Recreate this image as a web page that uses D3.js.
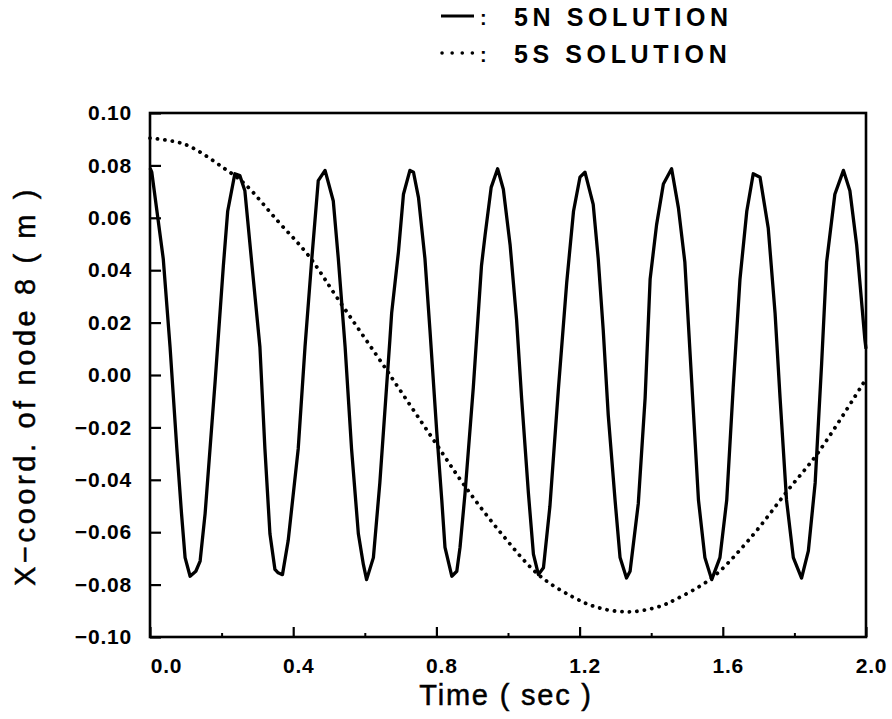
<!DOCTYPE html>
<html>
<head>
<meta charset="utf-8">
<script src="https://cdn.jsdelivr.net/npm/d3@7"></script>
<style>
body { margin: 0; background: #fff; }
svg { display: block; }
</style>
</head>
<body>
<svg id="chart"></svg>
<script>
// 5N solution (solid) : time (sec) and x-coord (m)
var t5N = [0.000,0.005,0.037,0.056,0.075,0.088,0.098,0.112,0.128,0.140,0.154,0.182,0.205,0.217,0.237,0.251,0.265,0.284,0.307,0.321,0.335,0.349,0.358,0.370,0.386,0.414,0.433,0.452,0.470,0.489,0.512,0.526,0.545,0.563,0.582,0.596,0.605,0.624,0.642,0.670,0.675,0.694,0.708,0.726,0.736,0.750,0.768,0.782,0.801,0.815,0.824,0.843,0.857,0.866,0.880,0.903,0.926,0.936,0.953,0.971,0.987,1.006,1.024,1.038,1.057,1.071,1.085,1.099,1.117,1.141,1.164,1.183,1.201,1.215,1.238,1.252,1.266,1.280,1.299,1.313,1.331,1.341,1.364,1.383,1.397,1.415,1.434,1.457,1.476,1.494,1.513,1.532,1.550,1.569,1.592,1.611,1.629,1.648,1.667,1.685,1.704,1.727,1.746,1.760,1.778,1.797,1.820,1.839,1.858,1.876,1.890,1.913,1.937,1.955,1.974,1.997,2.000];
var v5N = [0.079,0.0774,0.0444,0.0107,-0.0282,-0.0528,-0.0697,-0.0768,-0.0749,-0.071,-0.0528,-0.0023,0.0418,0.0625,0.0768,0.0761,0.0703,0.0431,0.0107,-0.0282,-0.0606,-0.0742,-0.0755,-0.0762,-0.0632,-0.0282,0.0107,0.0444,0.0742,0.0781,0.0664,0.0444,0.0107,-0.0282,-0.0606,-0.0723,-0.0781,-0.0697,-0.0412,0.0133,0.0236,0.0470,0.069,0.0781,0.0774,0.0677,0.0444,0.0171,-0.0217,-0.0477,-0.0658,-0.0768,-0.0749,-0.0658,-0.0451,-0.0049,0.0418,0.0534,0.0716,0.0787,0.0709,0.0495,0.0210,-0.0088,-0.0451,-0.0684,-0.0762,-0.0736,-0.0502,-0.0049,0.0353,0.0625,0.0755,0.0774,0.0651,0.0444,0.0171,-0.0153,-0.0477,-0.0697,-0.0775,-0.0749,-0.0490,-0.0088,0.0366,0.0573,0.0729,0.0787,0.0638,0.0431,-0.0023,-0.0477,-0.0697,-0.0781,-0.0697,-0.0477,-0.0049,0.0366,0.0625,0.0768,0.0755,0.0560,0.0236,-0.0088,-0.0477,-0.0697,-0.0775,-0.0671,-0.0412,0.0042,0.0431,0.0690,0.0781,0.0703,0.0495,0.0133,0.010];

// 5S solution (dotted)
var t5S = [0.000,0.098,0.209,0.265,0.358,0.442,0.526,0.656,0.675,0.796,0.880,0.982,1.085,1.178,1.252,1.336,1.420,1.466,1.569,1.671,1.783,1.867,2.000];
var v5S = [0.0904,0.0880,0.0787,0.0729,0.0586,0.0457,0.0288,0.0029,-0.0010,-0.0256,-0.0425,-0.0606,-0.0762,-0.0845,-0.0888,-0.0904,-0.0885,-0.0858,-0.0775,-0.0632,-0.0438,-0.0295,-0.0015];

var xTicks = [0.0,0.4,0.8,1.2,1.6,2.0];
var xMinor = [0.2,0.6,1.0,1.4,1.8];
var yTicks = [-0.10,-0.08,-0.06,-0.04,-0.02,0.00,0.02,0.04,0.06,0.08,0.10];
var legendNames = ["5N SOLUTION","5S SOLUTION"];

var screen = {width: 892, height: 719}
var margins = {top: 113, right: 26, bottom: 82, left: 150}
var width = screen.width - margins.left - margins.right
var height = screen.height - margins.top - margins.bottom

var svg = d3.select("#chart")
    .attr("width", screen.width)
    .attr("height", screen.height)

var g = svg.append("g")
    .attr("transform", "translate(" + margins.left + "," + margins.top + ")")

var xScale = d3.scaleLinear().domain([0, 2]).range([0, width])
var yScale = d3.scaleLinear().domain([-0.1, 0.1]).range([height, 0])

var tickFont = "'Liberation Sans', Arial, sans-serif"

// y axis, ticks pointing inwards
var yAxis = g.append("g")
    .call(d3.axisLeft(yScale).tickValues(yTicks).tickSize(-11).tickPadding(18)
        .tickFormat(d3.format(".2f")))
yAxis.select(".domain").remove()
yAxis.selectAll("line").attr("stroke", "#000").attr("stroke-width", 2.2)
yAxis.selectAll("text")
    .style("font-family", tickFont).style("font-size", "21px").style("font-weight", "bold")
    .style("letter-spacing", "0.8px")
    .attr("fill", "#000")
    .text(function(d) { return d3.format(".2f")(d).replace("-", "\u2212") })

// x axis major + minor
var xAxis = g.append("g")
    .attr("transform", "translate(0," + height + ")")
    .call(d3.axisBottom(xScale).tickValues(xTicks).tickSize(-10).tickPadding(21)
        .tickFormat(d3.format(".1f")))
xAxis.select(".domain").remove()
xAxis.selectAll("line").attr("stroke", "#000").attr("stroke-width", 2.2)
xAxis.selectAll("text")
    .style("font-family", tickFont).style("font-size", "21px").style("font-weight", "bold")
    .style("letter-spacing", "0.8px")
    .attr("fill", "#000")
    .attr("dx", function(d, i) { return i == 0 ? 16 : 5 })

var xMinorAxis = g.append("g")
    .attr("transform", "translate(0," + height + ")")
    .call(d3.axisBottom(xScale).tickValues(xMinor).tickSize(-4).tickFormat(""))
xMinorAxis.select(".domain").remove()
xMinorAxis.selectAll("line").attr("stroke", "#000").attr("stroke-width", 2)

// frame
g.append("rect")
    .attr("x", 0).attr("y", 0)
    .attr("width", width).attr("height", height)
    .attr("fill", "none").attr("stroke", "#000").attr("stroke-width", 2.6)

var line = d3.line()
    .x(function(d) { return xScale(d[0]) })
    .y(function(d) { return yScale(d[1]) })

g.append("path")
    .datum(t5N.map(function(t, i) { return [t, v5N[i]] }))
    .attr("d", line)
    .attr("fill", "none").attr("stroke", "#000")
    .attr("stroke-width", 3.3).attr("stroke-linejoin", "round")

g.append("path")
    .datum(t5S.map(function(t, i) { return [t, v5S[i]] }))
    .attr("d", d3.line().curve(d3.curveCatmullRom)
        .x(function(d) { return xScale(d[0]) })
        .y(function(d) { return yScale(d[1]) }))
    .attr("fill", "none").attr("stroke", "#000")
    .attr("stroke-width", 3.8).attr("stroke-linecap", "round")
    .attr("stroke-dasharray", "0.1 7.4")

// axis titles
svg.append("text")
    .attr("x", margins.left + width / 2 - 2).attr("y", 705)
    .attr("text-anchor", "middle")
    .style("font-family", tickFont).style("font-size", "29px")
    .style("letter-spacing", "1.8px")
    .attr("fill", "#000").attr("stroke", "#000").attr("stroke-width", 0.5)
    .text("Time ( sec )")

svg.append("text")
    .attr("transform", "translate(35," + 386 + ") rotate(-90)")
    .attr("text-anchor", "middle")
    .style("font-family", tickFont).style("font-size", "29px")
    .style("letter-spacing", "3.6px")
    .attr("fill", "#000").attr("stroke", "#000").attr("stroke-width", 0.5)
    .text("X\u2212coord. of node 8 ( m )")

// legend
var legend = svg.append("g")
legend.append("line")
    .attr("x1", 441).attr("x2", 474).attr("y1", 16).attr("y2", 16)
    .attr("stroke", "#000").attr("stroke-width", 3)
legend.append("line")
    .attr("x1", 442).attr("x2", 473).attr("y1", 53).attr("y2", 53)
    .attr("stroke", "#000").attr("stroke-width", 3.5).attr("stroke-linecap", "round")
    .attr("stroke-dasharray", "0.1 10")
legend.selectAll(".colon")
    .data(legendNames)
    .enter().append("text").attr("class", "colon")
    .attr("x", 480).attr("y", function(d, i) { return 25 + i * 37 })
    .style("font-family", tickFont).style("font-size", "20px").style("font-weight", "bold")
    .text(":")
legend.selectAll(".lname")
    .data(legendNames)
    .enter().append("text").attr("class", "lname")
    .attr("x", 514).attr("y", function(d, i) { return 26 + i * 37 })
    .style("font-family", tickFont).style("font-size", "25px").style("font-weight", "bold")
    .style("letter-spacing", "4.6px")
    .attr("fill", "#000")
    .text(function(d) { return d })
</script>
</body>
</html>
